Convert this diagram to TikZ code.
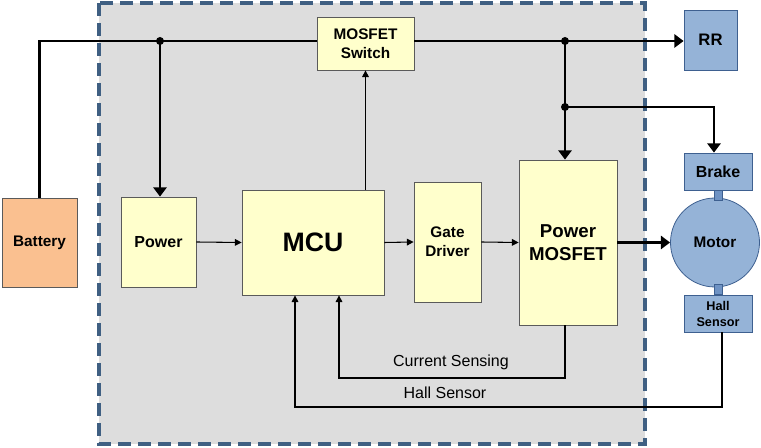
\documentclass[tikz,border=0pt]{standalone}
\usepackage{fontspec}
\setmainfont{Liberation Sans}
\usetikzlibrary{arrows.meta,calc}
\definecolor{graybg}{HTML}{DDDDDD}
\definecolor{dashc}{HTML}{3F5F82}
\definecolor{yfill}{HTML}{FFFFCC}
\definecolor{yedge}{HTML}{5A5A5A}
\definecolor{bfill}{HTML}{95B3D7}
\definecolor{bedge}{HTML}{3E6090}
\definecolor{barfill}{HTML}{6F93C4}
\definecolor{ofill}{HTML}{FAC090}
\tikzset{
  ybox/.style={draw=yedge, line width=0.6pt, fill=yfill, inner sep=0pt, align=center, font=\bfseries},
  bbox/.style={draw=bedge, line width=0.6pt, fill=bfill, inner sep=0pt, align=center, font=\bfseries},
  obox/.style={draw=yedge, line width=0.6pt, fill=ofill, inner sep=0pt, align=center, font=\bfseries},
  thickw/.style={line width=2.2pt},
  thinw/.style={line width=0.8pt},
  thickarr/.style={thickw, -{Triangle[width=10pt,length=7pt]}},
  thinarr/.style={thinw, -{Triangle[width=5pt,length=5pt]}},
  jdot/.style={circle, fill=black, inner sep=0pt, minimum size=6pt},
  lbl/.style={font=\fontsize{12}{14}\selectfont},
  shaft/.style={draw=bedge, fill=barfill, line width=0.5pt}
}
\begin{document}
\begin{tikzpicture}[x=0.75pt,y=-0.75pt]
\useasboundingbox (0,0) rectangle (761,448);
% grey region
\draw[dashc, fill=graybg, line width=2.4pt, dash pattern=on 10pt off 5pt] (99,3) rectangle (645,444);
% nodes
\node[obox, minimum width=56.25pt, minimum height=66.75pt, font=\bfseries\fontsize{11.5}{13}\selectfont] (bat) at (39.5,242.5) {Battery};
\node[ybox, minimum width=56.25pt, minimum height=67.5pt, font=\bfseries\fontsize{12}{14}\selectfont] (pw) at (158.5,242) {Power};
\node[ybox, minimum width=106.5pt, minimum height=78.75pt, font=\bfseries\fontsize{20}{24}\selectfont] (mcu) at (313,242.5) {MCU};
\node[ybox, minimum width=50.25pt, minimum height=90pt, font=\bfseries\fontsize{11.5}{14.5}\selectfont] (gd) at (447.5,242) {Gate\\Driver};
\node[ybox, minimum width=73.5pt, minimum height=123.75pt, font=\bfseries\fontsize{14}{17}\selectfont] (pm) at (568,242.5) {Power\\MOSFET};
\node[ybox, minimum width=72.75pt, minimum height=39.75pt, font=\bfseries\fontsize{11.5}{14}\selectfont] (sw) at (365.5,43.5) {MOSFET\\Switch};
\node[bbox, minimum width=39.75pt, minimum height=45pt, font=\bfseries\fontsize{12.5}{15}\selectfont] (rr) at (710.5,40) {RR};
\node[bbox, minimum width=51pt, minimum height=27.75pt, font=\bfseries\fontsize{12}{14}\selectfont] (brk) at (718,171.5) {Brake};
\node[bbox, circle, minimum size=66.75pt, font=\bfseries\fontsize{11.5}{14}\selectfont] (mot) at (715,242.5) {Motor};
\node[bbox, minimum width=51pt, minimum height=27.75pt, font=\bfseries\fontsize{9.5}{12}\selectfont] (hall) at (718,313.5) {Hall\\Sensor};
% shaft bars
\draw[shaft] ($(brk.south)+(-4,0)$) rectangle ($(brk.south |- mot.north)+(4,3)$);
\draw[shaft] ($(hall.north)+(-4,0)$) rectangle ($(hall.north |- mot.south)+(4,-3)$);
% bus
\coordinate (j1) at (160,41);
\coordinate (j2) at (565,41);
\coordinate (j3) at (565,107);
\draw[thickw] (bat.north) |- (j1) -- (sw.west |- j1);
\draw[thickarr] (sw.east |- j1) -- (rr.west |- j1);
\draw[thickarr] (j1) -- (j1 |- pw.north);
\draw[thickarr] (j2) -- (j2 |- pm.north);
\draw[thickarr] (j3) -| ($(brk.north)+(-4,0)$);
\node[jdot] (d1) at (j1) {};
\node[jdot] (d2) at (j2) {};
\node[jdot] (d3) at (j3) {};
% signal arrows
\draw[thinarr] (pw.east) -- (mcu.west);
\draw[thinarr] (mcu.east) -- (gd.west);
\draw[thinarr] (gd.east) -- (pm.west);
\draw[thickarr] (pm.east) -- (mot.west);
\draw[thinarr] (sw.south |- mcu.north) -- (sw.south);
% feedback
\coordinate (cs) at (339,378);
\coordinate (hs) at (295,407);
\draw[thinarr] ($(pm.south)+(-3,0)$) |- (cs) -- (cs |- mcu.south);
\draw[thinarr] ($(hall.south)+(4,0)$) |- (hs) -- (hs |- mcu.south);
\node[lbl] (lcs) at (451,362) {Current Sensing};
\node[lbl] (lhs) at (445,393) {Hall Sensor};
\end{tikzpicture}
\end{document}
